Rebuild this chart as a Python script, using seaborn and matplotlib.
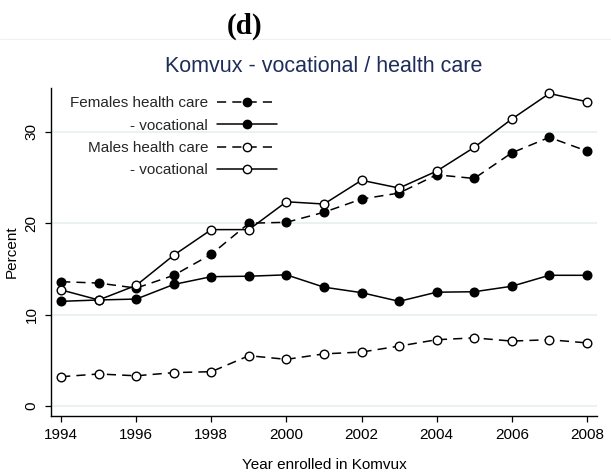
import matplotlib
matplotlib.use("Agg")
import matplotlib.pyplot as plt
from matplotlib.lines import Line2D
import seaborn as sns
import pandas as pd

# Share of Komvux enrollees (percent) by year of enrollment
years = list(range(1994, 2009))
females_health = [13.6, 13.45, 12.9, 14.3, 16.6, 20.0, 20.1, 21.2, 22.65, 23.3, 25.3, 24.9, 27.7, 29.4, 27.9]
females_vocational = [11.45, 11.6, 11.7, 13.3, 14.15, 14.2, 14.35, 13.0, 12.4, 11.45, 12.45, 12.5, 13.1, 14.3, 14.3]
males_health = [3.2, 3.5, 3.3, 3.65, 3.75, 5.5, 5.1, 5.7, 5.9, 6.55, 7.25, 7.45, 7.1, 7.25, 6.9]
males_vocational = [12.7, 11.6, 13.2, 16.5, 19.3, 19.3, 22.35, 22.1, 24.7, 23.85, 25.7, 28.3, 31.4, 34.2, 33.3]

series_labels = ["Females health care", "- vocational", "Males health care", "- vocational"]
x_ticks = list(range(1994, 2009, 2))
y_ticks = [0, 10, 20, 30]

sns.set_theme(style="white")
plt.rcParams["font.family"] = ["Liberation Sans", "DejaVu Sans"]

fig = plt.figure(figsize=(6.11, 4.76), dpi=100)
W, H = 611, 476
left, right, top, bottom = 51, 597, 88, 416
ax = fig.add_axes([left / W, 1 - bottom / H, (right - left) / W, (bottom - top) / H])

dash = (0, (6, 4))
styles = [
    dict(linestyle=dash, markerfacecolor="black"),
    dict(linestyle="-", markerfacecolor="black"),
    dict(linestyle=dash, markerfacecolor="white"),
    dict(linestyle="-", markerfacecolor="white"),
]
data = [females_health, females_vocational, males_health, males_vocational]

for vals, lab, st in zip(data, series_labels, styles):
    df = pd.DataFrame({"year": years, "pct": vals})
    sns.lineplot(data=df, x="year", y="pct", ax=ax, color="black", lw=1.1,
                 marker="o", markersize=6.2, markeredgecolor="black",
                 markeredgewidth=1.0, label=lab, **st)

ax.set_xlim(1993.73, 2008.27)
ax.set_ylim(-1.1, 34.8)
ax.set_xticks(x_ticks)
ax.set_yticks(y_ticks)
ax.grid(axis="y", color="#e8f0f1", lw=1.3)
ax.grid(axis="x", visible=False)
for s in ["top", "right"]:
    ax.spines[s].set_visible(False)
for s in ["left", "bottom"]:
    ax.spines[s].set_color("black")
    ax.spines[s].set_linewidth(1.0)
ax.tick_params(axis="both", direction="out", length=4, width=0.9, color="black",
               labelsize=11, labelcolor="black")
ax.tick_params(axis="x", bottom=True, pad=4.5)
ax.tick_params(axis="y", left=True, pad=5, labelrotation=90)
for t in ax.get_yticklabels():
    t.set_va("center")

ax.set_xlabel("Year enrolled in Komvux", fontsize=11, labelpad=12, color="black")
ax.set_ylabel("Percent", fontsize=11, labelpad=4, color="black")

leg = ax.legend(loc="upper left", bbox_to_anchor=(0.035, 0.975), frameon=False,
                markerfirst=False, fontsize=11, handlelength=3.9, handletextpad=0.6,
                labelspacing=0.55, borderpad=0, borderaxespad=0)
for h in leg.legend_handles:
    h.set_markersize(6)

fig.text(324 / W, 1 - 67 / H, "Komvux - vocational / health care", ha="center",
         va="center", fontsize=15.5, color="#1f2d5a")
fig.text(245 / W, 1 - 26 / H, "(d)", ha="center", va="center", fontsize=21,
         fontweight="bold", family=["Liberation Serif", "DejaVu Serif"], color="black")
fig.add_artist(Line2D([0, 1], [1 - 39 / H] * 2, color="#f0f0f0", lw=0.8))

fig.savefig("out.png", dpi=100)
